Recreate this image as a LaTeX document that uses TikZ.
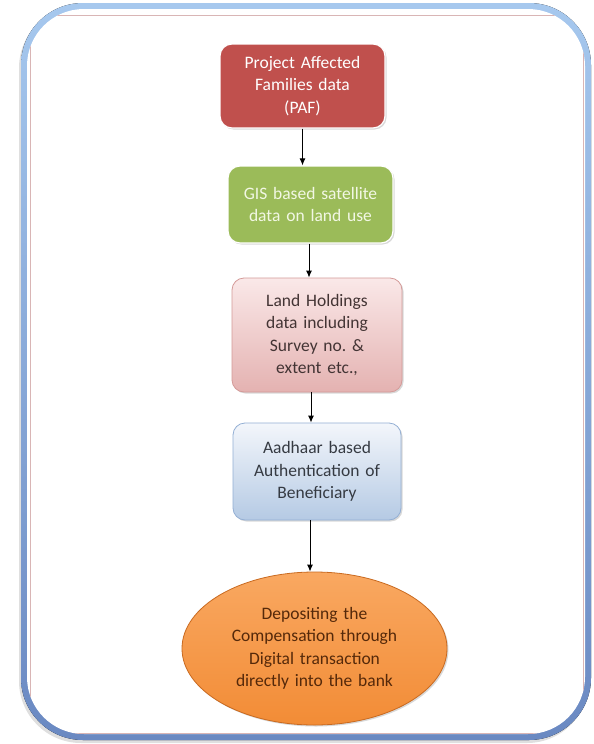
\documentclass[tikz,border=0pt]{standalone}
\usepackage{fontspec}
\setmainfont{Carlito}
\frenchspacing
\usetikzlibrary{arrows.meta,shapes.geometric,shadows}

\definecolor{framelight}{HTML}{A6C8EE}
\definecolor{framedark}{HTML}{6A89C2}
\definecolor{innerline}{HTML}{D9B5B5}
\definecolor{pafred}{HTML}{C0504D}
\definecolor{gisgreen}{HTML}{9BBB59}
\definecolor{gistext}{HTML}{F2F7E4}
\definecolor{landtop}{HTML}{FAE8E8}
\definecolor{landbot}{HTML}{E4B2B1}
\definecolor{landline}{HTML}{D49A98}
\definecolor{landtext}{HTML}{433434}
\definecolor{aadtop}{HTML}{F3F6FB}
\definecolor{aadbot}{HTML}{B5CAE4}
\definecolor{aadline}{HTML}{93AFD4}
\definecolor{aadtext}{HTML}{353A42}
\definecolor{deptop}{HTML}{F9A861}
\definecolor{depbot}{HTML}{F28C36}
\definecolor{depline}{HTML}{C96A20}
\definecolor{deptext}{HTML}{55290A}

\tikzset{
  box/.style={rectangle, rounded corners=12pt, inner sep=0pt, align=center,
    font=\fontsize{17.5}{22.5}\selectfont,
    drop shadow={opacity=0.3, shadow xshift=1.5pt, shadow yshift=-1.5pt}},
  arrow/.style={-{Latex[length=7pt,width=6pt]}, line width=1pt},
}

\begin{document}
\begin{tikzpicture}[x=1pt,y=-1pt]
    \useasboundingbox (0,0) rectangle (594,744);

    % frame
    \fill[top color=framelight, bottom color=framedark, rounded corners=62pt,
      drop shadow={opacity=0.25, shadow xshift=-2pt, shadow yshift=-3pt}] (21,3) rectangle (591,740);
    \fill[white, rounded corners=57pt] (27,9) rectangle (585,734);
    \begin{scope}
      \clip[rounded corners=57pt] (27,9) rectangle (585,734);
      \draw[innerline, line width=0.8pt] (30,15) rectangle (583,733);
    \end{scope}

    % steps
    \node[box, fill=pafred, draw=white, line width=1.2pt, text=white, text width=165pt, minimum height=84pt] (paf) at (302.5,86) {Project Affected\\Families data\\(PAF)};
    \node[box, fill=gisgreen, draw=white, line width=1.2pt, text=gistext, text width=165pt, minimum height=77pt] (gis) at (310.5,204.5) {GIS based satellite\\data on land use};
    \node[box, top color=landtop, bottom color=landbot, draw=landline, line width=0.8pt, text=landtext, text width=170pt, minimum height=114pt] (land) at (317,335) {Land Holdings\\data including\\Survey no. \&\\extent etc.,};
    \node[box, top color=aadtop, bottom color=aadbot, draw=aadline, line width=0.8pt, text=aadtext, text width=168pt, minimum height=97pt] (aadhaar) at (317,471.5) {Aadhaar based\\Authentication of\\Beneficiary};
    \node[ellipse, inner sep=0pt, align=center, font=\fontsize{17.5}{22.5}\selectfont,
      top color=deptop, bottom color=depbot, draw=depline, line width=0.8pt, text=deptext,
      text width=180pt, minimum width=265pt, minimum height=153pt,
      drop shadow={opacity=0.3, shadow xshift=1.5pt, shadow yshift=-1.5pt}] (deposit) at (314.5,648.5) {Depositing the\\Compensation through\\Digital transaction\\directly into the bank};

    \draw[arrow] (paf.south) -- (paf.south |- gis.north);
    \draw[arrow] ([xshift=-1.5pt]gis.south) -- ([xshift=-1.5pt]gis.south |- land.north);
    \draw[arrow] ([xshift=-6pt]land.south) -- ([xshift=-6pt]land.south |- aadhaar.north);
    \draw[arrow] ([xshift=-7pt]aadhaar.south) -- ([xshift=-7pt]aadhaar.south |- deposit.north);
\end{tikzpicture}
\end{document}
